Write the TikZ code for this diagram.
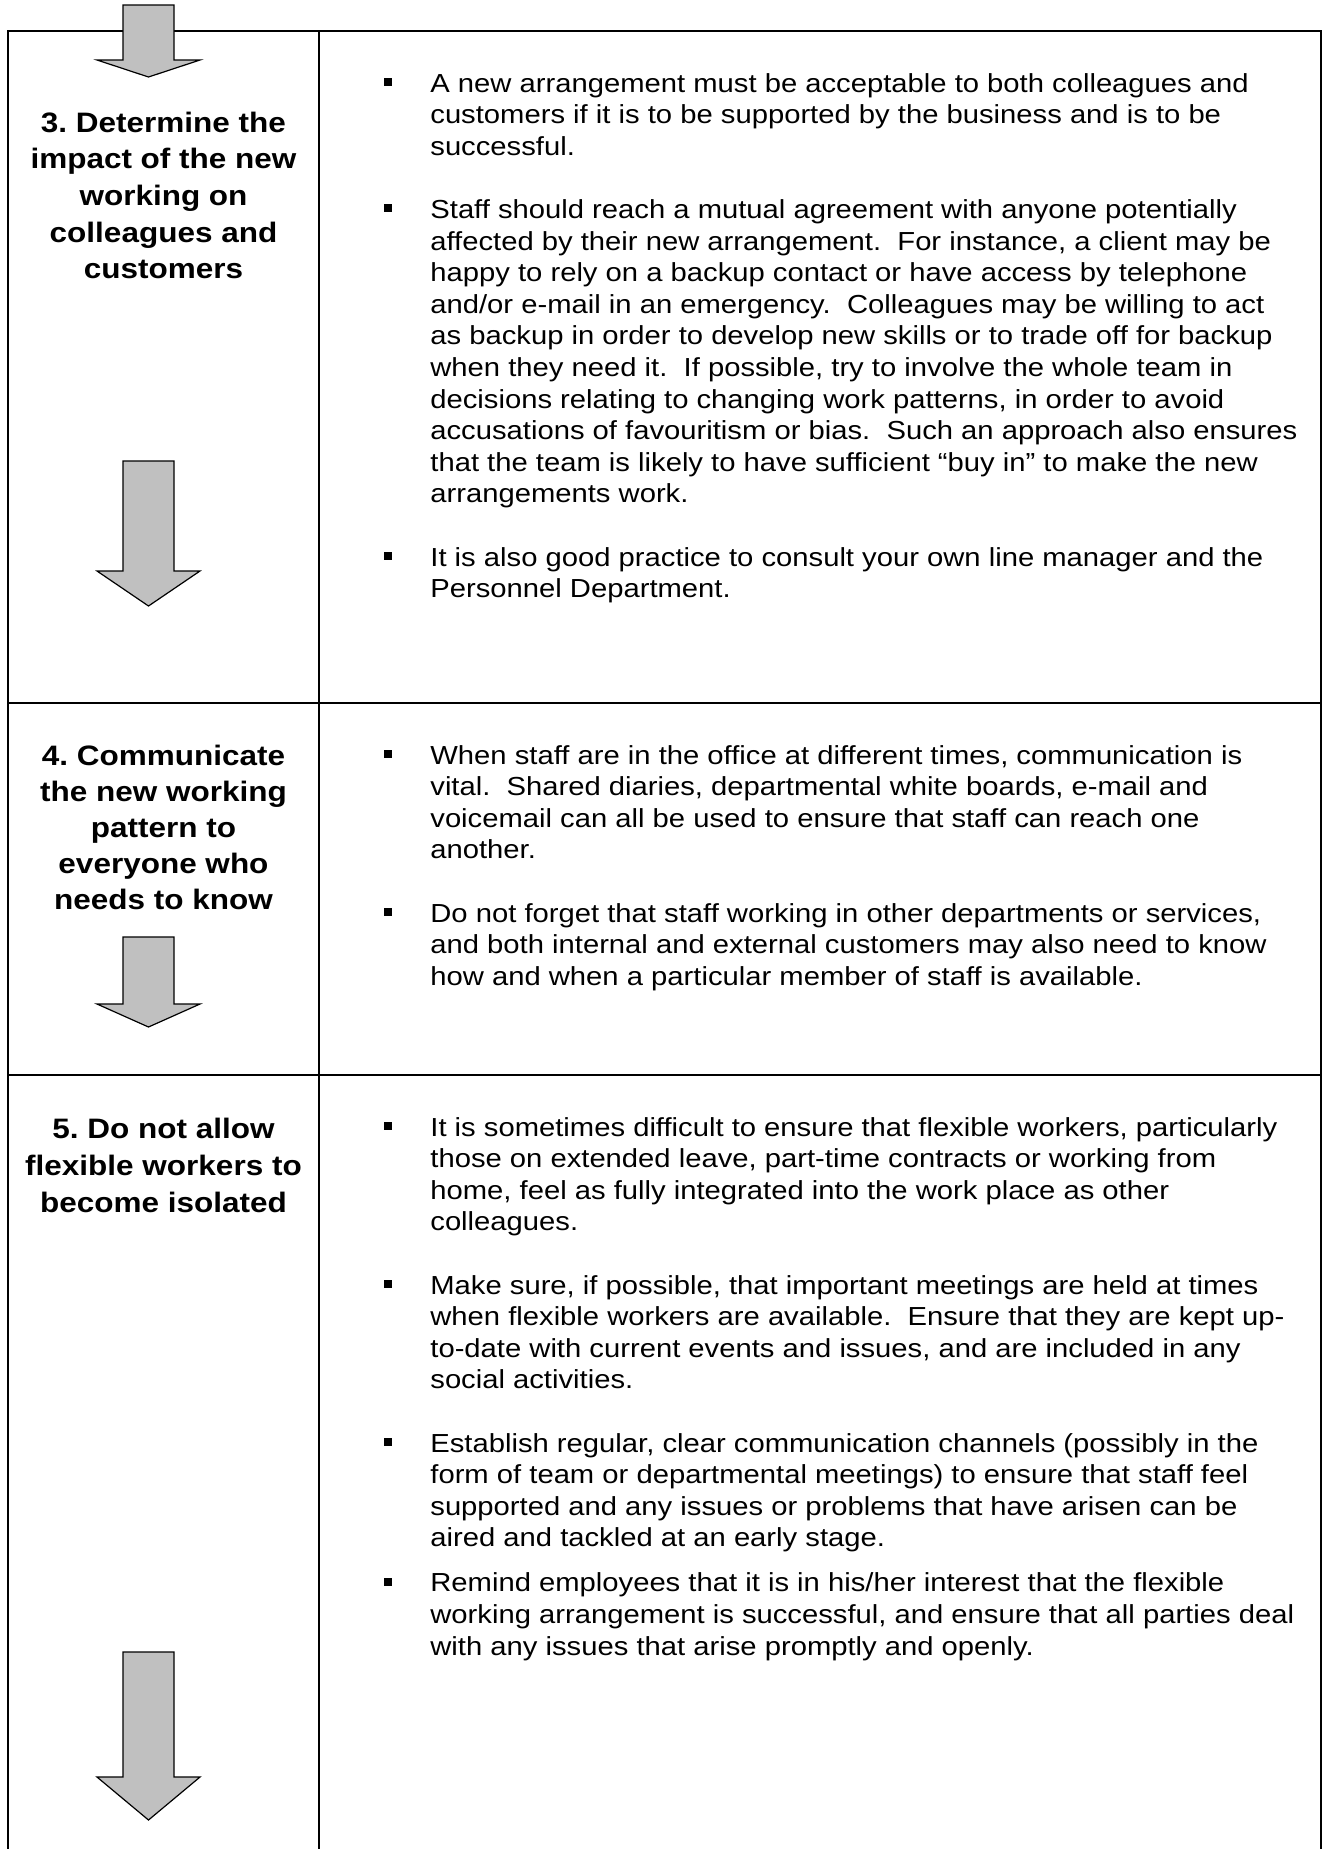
\documentclass[tikz,border=0pt]{standalone}
\usepackage{fontspec}
\setmainfont{Liberation Sans}
\definecolor{arrowgray}{HTML}{C0C0C0}
\frenchspacing
\newcommand\stretchtxt[1]{\scalebox{1.12}[1]{#1}}
\begin{document}
\begin{tikzpicture}[x=0.5pt,y=-0.5pt,
  body/.style={anchor=base west, inner sep=0pt, font=\fontsize{13.04}{15.8}\selectfont},
  head/.style={anchor=base, inner sep=0pt, font=\fontsize{14.06}{18}\selectfont\bfseries},
  bul/.style={fill=black, minimum size=4pt, inner sep=0pt, outer sep=0pt},
  grayarrow/.style={fill=arrowgray, draw=black, line width=0.6pt, line join=miter},
  rule/.style={line width=1pt}]
\useasboundingbox (0,0) rectangle (1323,1849);
% table
\draw[rule] (8,1849) -- (8,31) -- (1321,31) -- (1321,1849);
\draw[rule] (319,31) -- (319,1849);
\draw[rule] (8,703) -- (1321,703);
\draw[rule] (8,1075) -- (1321,1075);
% arrows
\draw[grayarrow] (123,5) -- (174,5) -- (174,60) -- (200,60) -- (148.5,77) -- (97,60) -- (123,60) -- cycle;
\draw[grayarrow] (123,461) -- (174,461) -- (174,571) -- (200,571) -- (148.5,606) -- (97,571) -- (123,571) -- cycle;
\draw[grayarrow] (123,937) -- (174,937) -- (174,1004) -- (200,1004) -- (148.5,1027) -- (97,1004) -- (123,1004) -- cycle;
\draw[grayarrow] (123,1652) -- (174,1652) -- (174,1777) -- (200,1777) -- (148.5,1820) -- (97,1777) -- (123,1777) -- cycle;
% headers
\node[head] (h3a) at (163.5,132) {\stretchtxt{3. Determine the}};
\node[head] (h3b) at (163.5,168.7) {\stretchtxt{impact of the new}};
\node[head] (h3c) at (163.5,205.4) {\stretchtxt{working on}};
\node[head] (h3d) at (163.5,242.1) {\stretchtxt{colleagues and}};
\node[head] (h3e) at (163.5,278.8) {\stretchtxt{customers}};
\node[head] (h4a) at (163.5,765) {\stretchtxt{4. Communicate}};
\node[head] (h4b) at (163.5,801) {\stretchtxt{the new working}};
\node[head] (h4c) at (163.5,837) {\stretchtxt{pattern to}};
\node[head] (h4d) at (163.5,873) {\stretchtxt{everyone who}};
\node[head] (h4e) at (163.5,909) {\stretchtxt{needs to know}};
\node[head] (h5a) at (163.5,1138) {\stretchtxt{5. Do not allow}};
\node[head] (h5b) at (163.5,1175) {\stretchtxt{flexible workers to}};
\node[head] (h5c) at (163.5,1212) {\stretchtxt{become isolated}};
% row 3 bullets
\node[bul] (b31) at (388,82) {};
\node[bul] (b32) at (388,208.4) {};
\node[bul] (b33) at (388,556) {};
\node[body] (t301) at (430,92) {\stretchtxt{A new arrangement must be acceptable to both colleagues and}};
\node[body] (t302) at (430,123.6) {\stretchtxt{customers if it is to be supported by the business and is to be}};
\node[body] (t303) at (430,155.2) {\stretchtxt{successful.}};
\node[body] (t304) at (430,218.4) {\stretchtxt{Staff should reach a mutual agreement with anyone potentially}};
\node[body] (t305) at (430,250) {\stretchtxt{affected by their new arrangement.\ \ For instance, a client may be}};
\node[body] (t306) at (430,281.6) {\stretchtxt{happy to rely on a backup contact or have access by telephone}};
\node[body] (t307) at (430,313.2) {\stretchtxt{and/or e-mail in an emergency.\ \ Colleagues may be willing to act}};
\node[body] (t308) at (430,344.8) {\stretchtxt{as backup in order to develop new skills or to trade off for backup}};
\node[body] (t309) at (430,376.4) {\stretchtxt{when they need it.\ \ If possible, try to involve the whole team in}};
\node[body] (t310) at (430,408) {\stretchtxt{decisions relating to changing work patterns, in order to avoid}};
\node[body] (t311) at (430,439.6) {\stretchtxt{accusations of favouritism or bias.\ \ Such an approach also ensures}};
\node[body] (t312) at (430,471.2) {\stretchtxt{that the team is likely to have sufficient “buy in” to make the new}};
\node[body] (t313) at (430,502.8) {\stretchtxt{arrangements work.}};
\node[body] (t314) at (430,566) {\stretchtxt{It is also good practice to consult your own line manager and the}};
\node[body] (t315) at (430,597.6) {\stretchtxt{Personnel Department.}};
% row 4
\node[bul] (b41) at (388,754) {};
\node[bul] (b42) at (388,912) {};
\node[body] (t401) at (430,764) {\stretchtxt{When staff are in the office at different times, communication is}};
\node[body] (t402) at (430,795.6) {\stretchtxt{vital.\ \ Shared diaries, departmental white boards, e-mail and}};
\node[body] (t403) at (430,827.2) {\stretchtxt{voicemail can all be used to ensure that staff can reach one}};
\node[body] (t404) at (430,858.8) {\stretchtxt{another.}};
\node[body] (t405) at (430,922) {\stretchtxt{Do not forget that staff working in other departments or services,}};
\node[body] (t406) at (430,953.6) {\stretchtxt{and both internal and external customers may also need to know}};
\node[body] (t407) at (430,985.2) {\stretchtxt{how and when a particular member of staff is available.}};
% row 5
\node[bul] (b51) at (388,1126) {};
\node[bul] (b52) at (388,1284) {};
\node[bul] (b53) at (388,1442) {};
\node[bul] (b54) at (388,1581.8) {};
\node[body] (t501) at (430,1136) {\stretchtxt{It is sometimes difficult to ensure that flexible workers, particularly}};
\node[body] (t502) at (430,1167.6) {\stretchtxt{those on extended leave, part-time contracts or working from}};
\node[body] (t503) at (430,1199.2) {\stretchtxt{home, feel as fully integrated into the work place as other}};
\node[body] (t504) at (430,1230.8) {\stretchtxt{colleagues.}};
\node[body] (t505) at (430,1294) {\stretchtxt{Make sure, if possible, that important meetings are held at times}};
\node[body] (t506) at (430,1325.6) {\stretchtxt{when flexible workers are available.\ \ Ensure that they are kept up-}};
\node[body] (t507) at (430,1357.2) {\stretchtxt{to-date with current events and issues, and are included in any}};
\node[body] (t508) at (430,1388.8) {\stretchtxt{social activities.}};
\node[body] (t509) at (430,1452) {\stretchtxt{Establish regular, clear communication channels (possibly in the}};
\node[body] (t510) at (430,1483.6) {\stretchtxt{form of team or departmental meetings) to ensure that staff feel}};
\node[body] (t511) at (430,1515.2) {\stretchtxt{supported and any issues or problems that have arisen can be}};
\node[body] (t512) at (430,1546.8) {\stretchtxt{aired and tackled at an early stage.}};
\node[body] (t513) at (430,1591.8) {\stretchtxt{Remind employees that it is in his/her interest that the flexible}};
\node[body] (t514) at (430,1623.4) {\stretchtxt{working arrangement is successful, and ensure that all parties deal}};
\node[body] (t515) at (430,1655) {\stretchtxt{with any issues that arise promptly and openly.}};
\end{tikzpicture}
\end{document}
